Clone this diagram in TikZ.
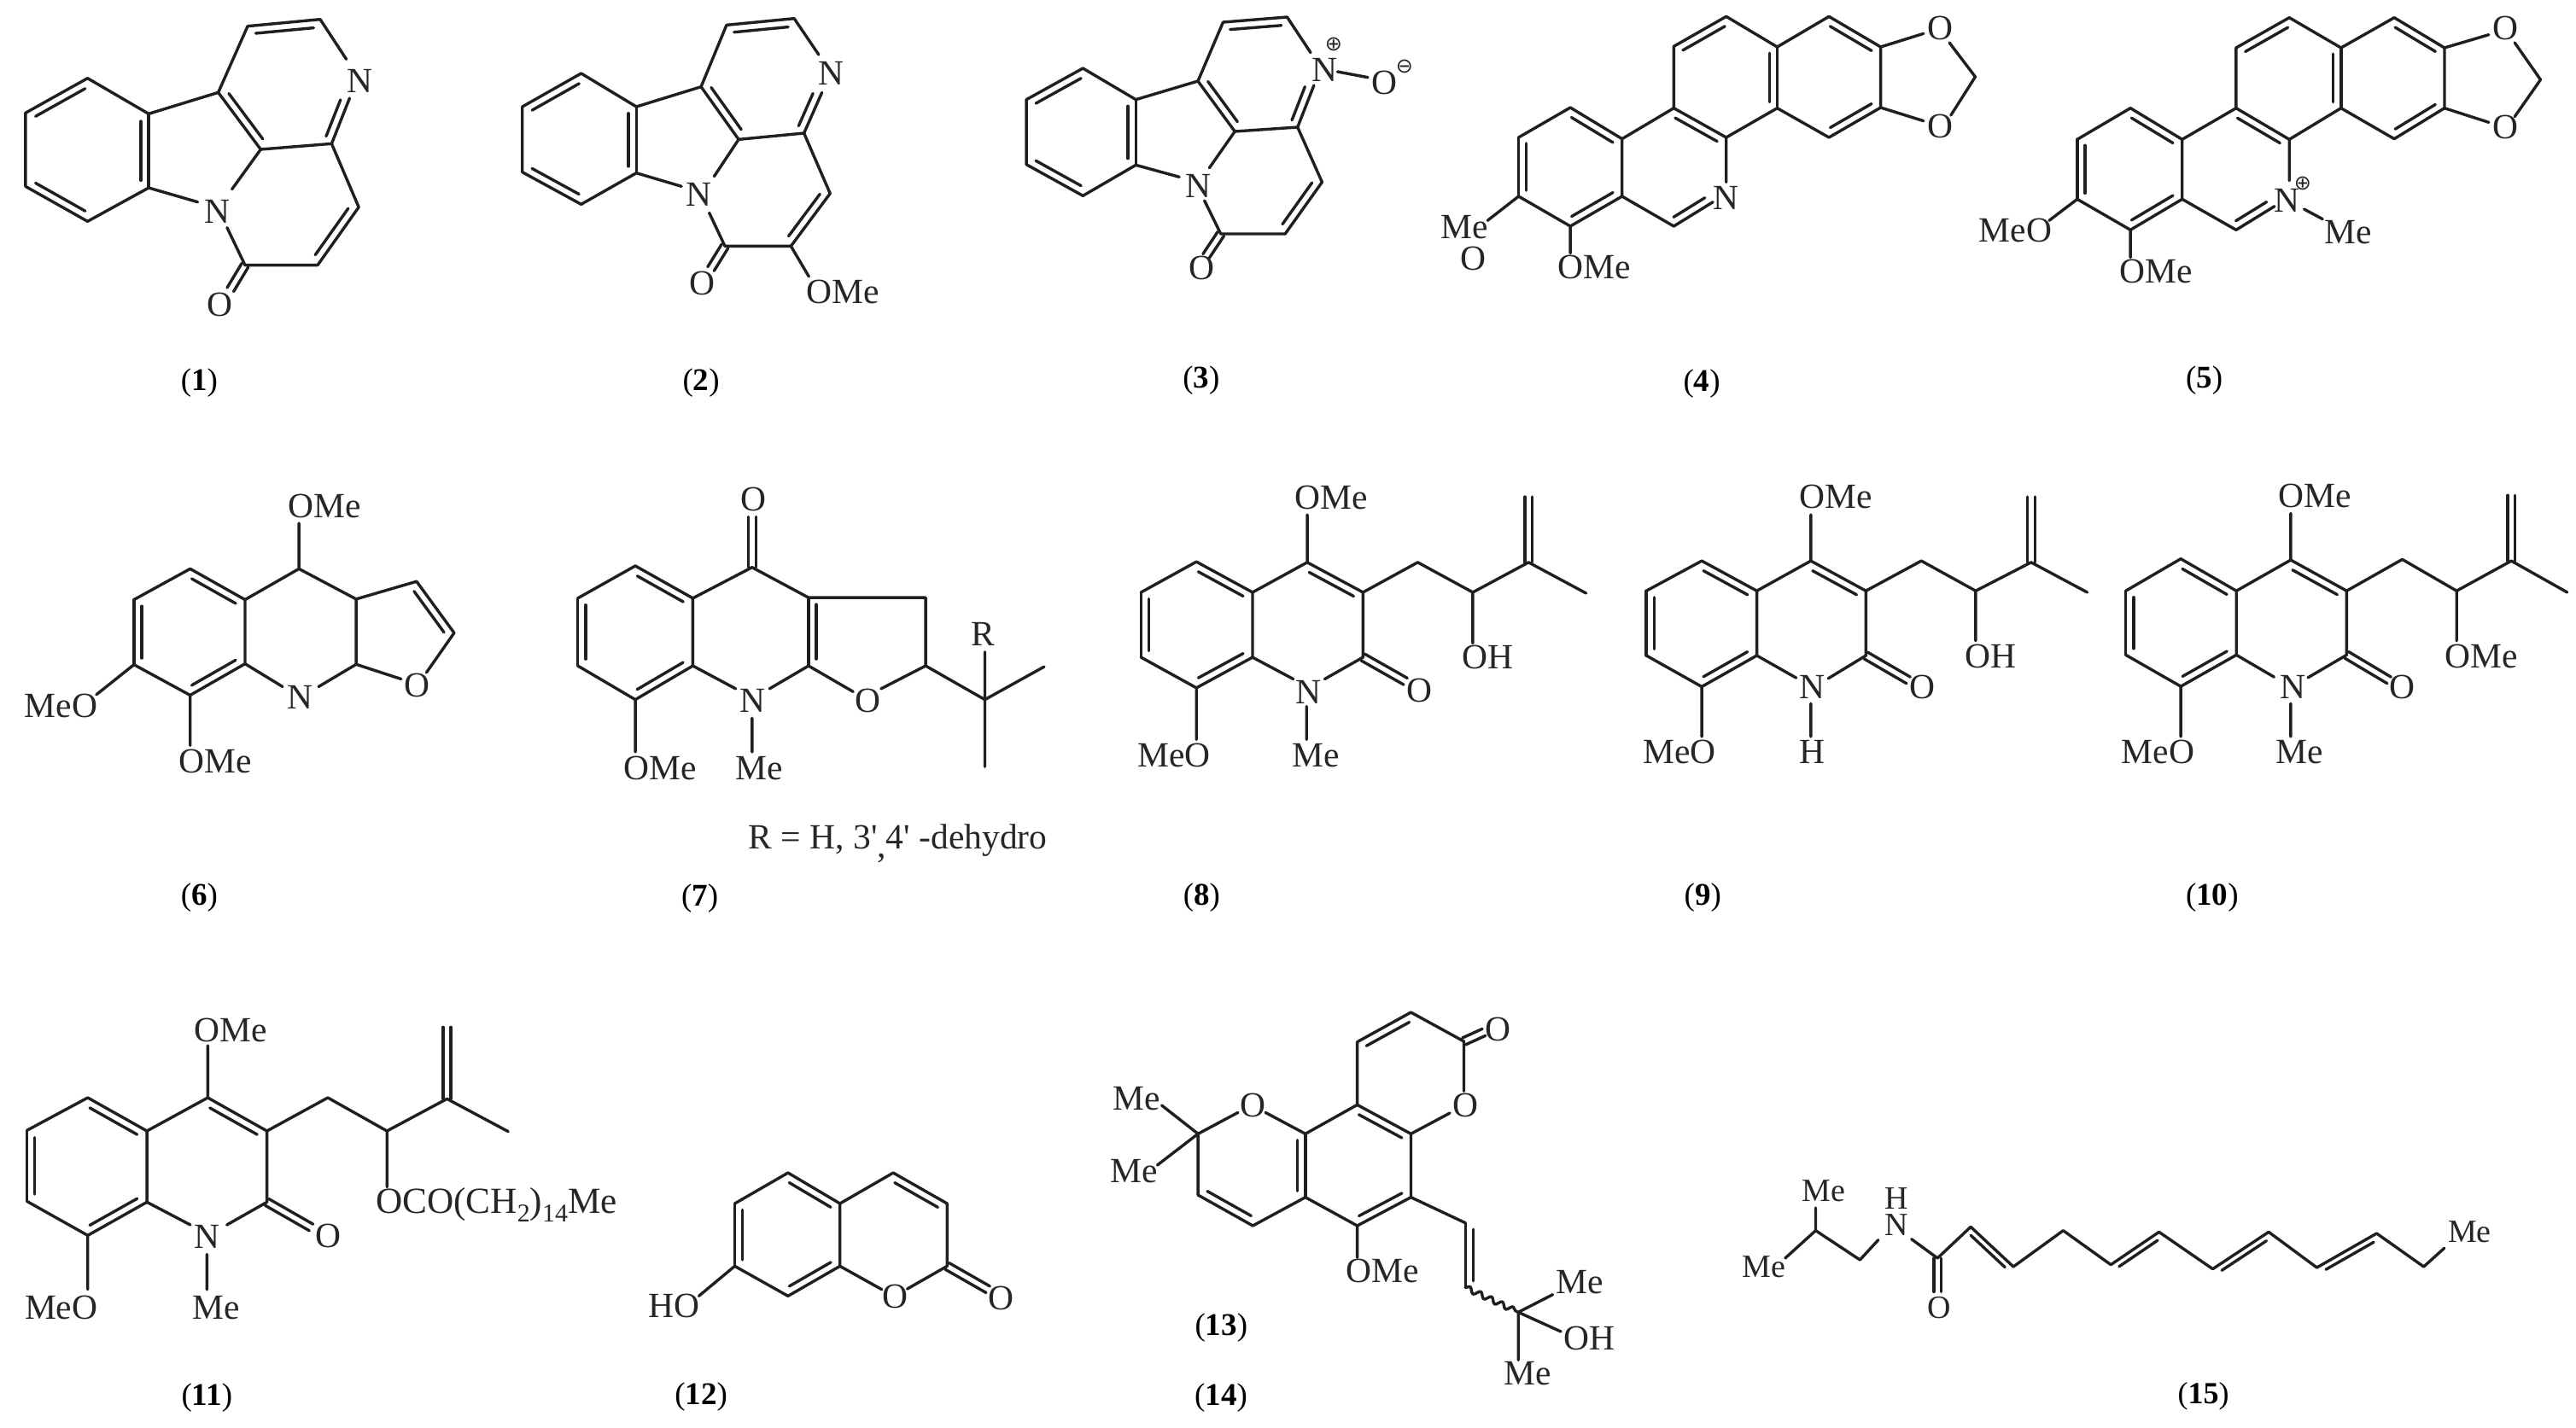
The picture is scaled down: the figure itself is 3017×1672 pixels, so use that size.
\documentclass[tikz,border=0pt]{standalone}
\usepackage{fontspec}
\setmainfont{Liberation Serif}
\newfontfamily\plainf{Liberation Serif}
\newfontfamily\symf{DejaVu Sans}
\usetikzlibrary{calc,decorations.pathmorphing}
\newcommand{\dbloff}{4.6pt}
\newcommand{\pts}[1]{\foreach \n/\x/\y in {#1} {\coordinate (\n) at (\x,\y);}}
\newcommand{\bondL}[2]{\draw[bond] (#1)--(#2); \draw[bond] ($(#1)!.1!(#2)!\dbloff!90:(#2)$) -- ($(#2)!.1!(#1)!\dbloff!-90:(#1)$);}
\newcommand{\bondR}[2]{\draw[bond] (#1)--(#2); \draw[bond] ($(#1)!.1!(#2)!\dbloff!-90:(#2)$) -- ($(#2)!.1!(#1)!\dbloff!90:(#1)$);}
\newcommand{\bondC}[2]{\draw[bond] ($(#1)!2.2pt!90:(#2)$) -- ($(#2)!2.2pt!-90:(#1)$); \draw[bond] ($(#1)!2.2pt!-90:(#2)$) -- ($(#2)!2.2pt!90:(#1)$);}
\newcommand{\lab}[4]{\node[lbl] (#1) at (#2,#3) {#4};}
\newcommand{\cpt}[4]{\node[capt] (#1) at (#2,#3) {(\textbf{#4})};}
% canthin-6-one skeleton
\newcommand{\canth}[1]{%
 \draw[bond] (#11)--(#12) (#13)--(#14) (#15)--(#16) (#11)--(#17)--(#110) (#111)--(#112) (#18)--(#19)--(#119) (#18)--(#114) (#16)--(#115) (#116)--(#117)--(#118);
 \bondL{#12}{#13}\bondL{#14}{#15}\bondL{#16}{#11}\bondR{#110}{#111}\bondL{#17}{#18}\bondL{#19}{#113}\bondR{#119}{#118}\bondC{#117}{#120}}
% quinolin-2-one with side chain
\newcommand{\quin}[1]{%
 \draw[bond] (#12)--(#13) (#14)--(#15) (#16)--(#11)--(#17) (#18)--(#19)--(#110) (#16)--(#111) (#112)--(#113) (#15)--(#114) (#17)--(#116) (#18)--(#117)--(#118)--(#119)--(#120) (#118)--(#122);
 \bondL{#11}{#12}\bondL{#13}{#14}\bondL{#15}{#16}\bondR{#17}{#18}\bondC{#19}{#115}\bondC{#119}{#121}}
% benzophenanthridine skeleton
\newcommand{\sang}[1]{%
 \draw[bond] (#12)--(#13) (#14)--(#15) (#16)--(#11)--(#17)--(#112) (#18)--(#19) (#16)--(#110) (#113)--(#114)--(#116) (#115)--(#18) (#117)--(#118) (#119)--(#115) (#117)--(#120) (#118)--(#121) (#123)--(#122)--(#124) (#14)--(#125) (#15)--(#126);
 \bondL{#11}{#12}\bondL{#13}{#14}\bondL{#15}{#16}\bondR{#17}{#18}\bondL{#110}{#111}\bondR{#112}{#113}\bondR{#114}{#115}\bondR{#116}{#117}\bondR{#118}{#119}}
\tikzset{
 bond/.style={line width=1.7pt,line cap=round,line join=round,draw=black!88},
 lbl/.style={anchor=base west,inner sep=0pt,outer sep=0pt,text=black!85,font=\fontsize{20.75}{24}\selectfont},
 lbls/.style={anchor=base west,inner sep=0pt,outer sep=0pt,text=black!85,font=\fontsize{19}{22}\selectfont},
 capt/.style={anchor=base,inner sep=0pt,outer sep=0pt,text=black,font=\fontsize{18.5}{22}\selectfont},
 chg/.style={anchor=center,inner sep=0pt,outer sep=0pt,text=black!85,font=\symf\fontsize{12}{14}\selectfont},
 zH/.style={x=0.43271pt,y=-0.16667pt},
 zA/.style={x=0.19133pt,y=-0.16667pt},
 zB/.style={x=0.19133pt,y=-0.17219pt},
 zC/.style={x=0.18399pt,y=-0.17219pt},
 zD/.style={x=0.20408pt,y=-0.17219pt},
 zE/.style={x=0.24237pt,y=-0.16667pt},
 zF/.style={x=0.21683pt,y=-0.16667pt},
 zG/.style={x=0.32430pt,y=-0.16667pt}
}
\begin{document}
\begin{tikzpicture}[x=0.5pt,y=-0.5pt]
\useasboundingbox (0,0) rectangle (3017,1672);
\fill[white] (0,0) rectangle (3017,1672);

% ---- 1
\begin{scope}[shift={(0,0)},zA]
\pts{a1/455/400,a2/268/275,a3/78/397,a4/78/655,a5/268/778,a6/455/660,a7/668/325,a8/798/525,a9/1015/505,a10/758/92,a11/980/68,a12/1060/208,a13/1070/345,a14/710/665,a15/605/710,a16/695/800,a17/750/932,a18/972/932,a19/1098/728,a20/705/1018}
\canth{a}
\lab{aN}{1062}{325}{N}\lab{aNb}{625}{783}{N}\lab{aO}{635}{1112}{O}
\cpt{acap}{610}{1371}{1}
\end{scope}

% ---- 2
\begin{scope}[shift={(580,0)},zA]
\pts{b1/432/375,b2/263/258,b3/83/375,b4/83/605,b5/263/718,b6/432/608,b7/630/305,b8/745/490,b9/945/468,b10/708/88,b11/915/65,b12/990/192,b13/1000/325,b14/670/620,b15/570/655,b16/655/748,b17/703/865,b18/905/865,b19/1025/680,b20/660/945,b21/960/972}
\canth{b}
\draw[bond] (b18)--(b21);
\lab{bN}{990}{298}{N}\lab{bNb}{585}{725}{N}\lab{bO}{595}{1035}{O}\lab{bOMe}{952}{1065}{OMe}
\cpt{bcap}{630}{1371}{2}
\end{scope}

% ---- 3
\begin{scope}[shift={(1160,0)},zA]
\pts{c1/445/350,c2/283/240,c3/110/350,c4/110/578,c5/283/688,c6/445/580,c7/635/285,c8/748/462,c9/940/447,c10/712/78,c11/908/60,c12/980/185,c13/990/300,c14/670/590,c15/578/622,c16/655/705,c17/705/822,c18/902/822,c19/1015/640,c20/660/900,c21/1062/252,c22/1155/272}
\canth{c}
\draw[bond] (c21)--(c22);
\lab{cN}{985}{285}{N}\lab{cO}{1168}{332}{O}\lab{cNb}{597}{693}{N}\lab{cOb}{607}{982}{O}
\node[chg] (cplus) at (1050,155) {⊕};
\node[chg] (cminus) at (1267,233) {⊖};
\cpt{ccap}{645}{1362}{3}
\end{scope}

% ---- 4 and 5
\begin{scope}[shift={(1660,0)},zH]
\pts{d1/277/488,d2/207/378,d3/137/483,d4/137/690,d5/207/795,d6/277/690,d7/347/380,d8/418/483,d9/418/640,d10/347/795,d11/400/710,d12/347/163,d13/418/58,d14/487/165,d15/487/380,d16/557/58,d17/627/165,d18/627/378,d19/557/483,d20/685/118,d21/685/425,d22/755/270,d23/720/150,d24/722/405,d25/95/775,d26/207/890}
\sang{d}
\lab{dMe}{32}{838}{Me}\lab{dO}{58}{948}{O}\lab{dOMe}{190}{980}{OMe}\lab{dN}{400}{735}{N}
\lab{dOa}{690}{140}{O}\lab{dOb}{690}{485}{O}
\cpt{dcap}{385}{1374}{4}
\pts{e1/1035/490,e2/965/380,e3/893/490,e4/893/700,e5/965/808,e6/1035/700,e7/1108/380,e8/1180/490,e9/1180/635,e10/1108/808,e11/1160/725,e12/1108/168,e13/1180/62,e14/1250/168,e15/1250/380,e16/1322/62,e17/1390/168,e18/1390/380,e19/1322/488,e20/1450/122,e21/1450/430,e22/1520/280,e23/1485/150,e24/1485/410,e25/855/775,e26/965/905,e27/1200/735,e28/1225/770}
\sang{e}
\draw[bond] (e27)--(e28);
\lab{eMeO}{760}{850}{MeO}\lab{eOMe}{950}{995}{OMe}\lab{eN}{1160}{745}{N}
\node[chg] (eplus) at (1198,645) {⊕};
\lab{eMe}{1228}{855}{Me}
\lab{eOa}{1455}{140}{O}\lab{eOb}{1455}{488}{O}
\cpt{ecap}{1065}{1362}{5}
\end{scope}

% ---- 6
\begin{scope}[shift={(0,540)},zB]
\pts{f1/750/472,f2/582/367,f3/410/472,f4/410/693,f5/582/797,f6/750/690,f7/915/367,f8/1090/470,f9/1090/692,f10/865/768,f11/975/768,f12/915/212,f13/1275/410,f14/1390/585,f15/1305/720,f16/1228/742,f17/295/795,f18/582/968}
\draw[bond] (f2)--(f3) (f4)--(f5) (f6)--(f1)--(f7)--(f8)--(f9) (f6)--(f10) (f9)--(f11) (f7)--(f12) (f8)--(f13) (f14)--(f15) (f9)--(f16) (f4)--(f17) (f5)--(f18);
\bondL{f1}{f2}\bondL{f3}{f4}\bondL{f5}{f6}\bondR{f13}{f14}
\lab{fN}{880}{843}{N}\lab{fO}{1238}{803}{O}\lab{fOMea}{882}{192}{OMe}\lab{fMeO}{75}{873}{MeO}\lab{fOMeb}{547}{1060}{OMe}
\cpt{fcap}{610}{1510}{6}
\end{scope}

% ---- 7
\begin{scope}[shift={(640,540)},zD]
\pts{g1/420/467,g2/255/357,g3/90/467,g4/90/697,g5/255/812,g6/420/697,g7/590/362,g8/590/190,g9/752/465,g10/752/697,g11/1088/465,g12/1088/697,g13/640/775,g14/880/785,g15/960/775,g16/543/775,g17/590/875,g18/590/990,g19/255/990,g20/1258/812,g21/1428/700,g22/1258/1040,g23/1258/650}
\draw[bond] (g2)--(g3) (g4)--(g5) (g6)--(g1)--(g7)--(g9)--(g11)--(g12)--(g20)--(g21) (g10)--(g13) (g10)--(g14) (g12)--(g15) (g6)--(g16) (g17)--(g18) (g5)--(g19) (g23)--(g22);
\bondL{g1}{g2}\bondL{g3}{g4}\bondL{g5}{g6}\bondL{g9}{g10}\bondC{g7}{g8}
\lab{gO}{557}{170}{O}\lab{gOb}{885}{855}{O}\lab{gN}{555}{855}{N}\lab{gMe}{542}{1085}{Me}\lab{gOMe}{222}{1085}{OMe}\lab{gR}{1220}{630}{R}
\lab{gtxt}{580}{1320}{\plainf R = H, 3'\raisebox{-5pt}{,}4' -dehydro}
\cpt{gcap}{440}{1515}{7}
\end{scope}

% ---- 8
\begin{scope}[shift={(1280,540)},zD]
\pts{h1/458/447,h2/297/343,h3/138/447,h4/138/668,h5/297/772,h6/458/668,h7/615/345,h8/775/447,h9/775/668,h10/665/742,h11/575/742,h12/613/835,h13/613/948,h14/297/948,h15/897/750,h16/615/183,h17/932/345,h18/1090/447,h19/1250/345,h20/1415/450,h21/1250/122,h22/1090/620}
\quin{h}
\lab{hN}{583}{825}{N}\lab{hMe}{572}{1040}{Me}\lab{hMeO}{128}{1040}{MeO}\lab{hO}{900}{820}{O}\lab{hOMe}{580}{165}{OMe}\lab{hOH}{1060}{708}{OH}
\cpt{hcap}{312}{1510}{8}
\end{scope}

% ---- 9
\begin{scope}[shift={(1880,540)},zD]
\pts{i1/435/442,i2/277/340,i3/118/442,i4/118/662,i5/277/768,i6/435/662,i7/590/340,i8/748/442,i9/748/662,i10/640/740,i11/548/738,i12/590/825,i13/590/938,i14/277/938,i15/870/746,i16/590/183,i17/907/340,i18/1063/442,i19/1222/345,i20/1383/447,i21/1222/122,i22/1063/612}
\quin{i}
\lab{iN}{558}{810}{N}\lab{iH}{558}{1030}{H}\lab{iMeO}{108}{1030}{MeO}\lab{iO}{873}{808}{O}\lab{iOMe}{557}{162}{OMe}\lab{iOH}{1032}{705}{OH}
\cpt{icap}{280}{1510}{9}
\end{scope}

% ---- 10
\begin{scope}[shift={(2440,540)},zC]
\pts{j1/487/442,j2/310/333,j3/135/442,j4/135/660,j5/310/767,j6/487/660,j7/660/337,j8/838/442,j9/838/660,j10/715/737,j11/607/735,j12/660/825,j13/660/938,j14/310/938,j15/973/746,j16/660/178,j17/1015/335,j18/1188/442,j19/1362/340,j20/1540/447,j21/1362/117,j22/1188/612}
\quin{j}
\lab{jN}{625}{810}{N}\lab{jMe}{612}{1030}{Me}\lab{jMeO}{122}{1030}{MeO}\lab{jO}{975}{808}{O}\lab{jOMe}{622}{158}{OMe}\lab{jOMeb}{1150}{703}{OMe}
\cpt{jcap}{410}{1510}{10}
\end{scope}

% ---- 11
\begin{scope}[shift={(0,1160)},zE]
\pts{k1/355/495,k2/212/378,k3/65/493,k4/65/742,k5/212/862,k6/355/745,k7/502/378,k8/645/495,k9/645/745,k10/548/825,k11/460/825,k12/500/928,k13/500/1052,k14/212/1052,k15/752/834,k16/502/195,k17/792/378,k18/935/495,k19/1080/382,k20/1228/497,k21/1080/130,k22/935/692}
\quin{k}
\lab{kN}{470}{908}{N}\lab{kMe}{465}{1155}{Me}\lab{kMeO}{60}{1155}{MeO}\lab{kO}{762}{905}{O}\lab{kOMe}{470}{182}{OMe}
\lab{kest}{908}{785}{\fontsize{21.6}{24}\selectfont OCO(CH\raisebox{-5pt}{\fontsize{15}{16}\selectfont 2})\raisebox{-5pt}{\fontsize{15}{16}\selectfont 14}Me}
\cpt{kcap}{500}{1458}{11}
\end{scope}

% ---- 12
\begin{scope}[shift={(740,1160)},zA]
\pts{l1/637/750,l2/478/642,l3/315/750,l4/315/970,l5/478/1075,l6/637/970,l7/800/642,l8/965/750,l9/965/970,l10/765/1052,l11/843/1050,l12/1090/1052,l13/205/1075}
\draw[bond] (l2)--(l3) (l4)--(l5) (l6)--(l1)--(l7) (l8)--(l9)--(l11) (l6)--(l10) (l4)--(l13);
\bondL{l1}{l2}\bondL{l3}{l4}\bondL{l5}{l6}\bondR{l7}{l8}\bondC{l9}{l12}
\lab{lO}{768}{1118}{O}\lab{lOb}{1092}{1122}{O}\lab{lHO}{52}{1150}{HO}
\cpt{lcap}{212}{1455}{12}
\end{scope}

% ---- 13 / 14
\begin{scope}[shift={(1260,1160)},zF]
\pts{m1/760/403,m2/905/505,m3/905/728,m4/760/828,m5/620/728,m6/620/505,m7/760/182,m8/905/78,m9/1048/180,m10/1048/355,m11/1010/432,m12/1102/148,m13/512/430,m14/438/430,m15/330/505,m16/330/720,m17/478/828,m18/232/405,m19/220/615,m20/760/940,m21/1052/818,m22/1052/1045,m23/1195/1132,m24/1288/1070,m25/1310/1200,m26/1195/1300}
\draw[bond] (m2)--(m3) (m4)--(m5) (m6)--(m1)--(m7) (m8)--(m9)--(m10) (m2)--(m11) (m6)--(m13) (m14)--(m15)--(m16) (m17)--(m5) (m15)--(m18) (m15)--(m19) (m4)--(m20) (m3)--(m21) (m23)--(m24) (m23)--(m25) (m23)--(m26);
\bondR{m1}{m2}\bondR{m3}{m4}\bondL{m5}{m6}\bondR{m7}{m8}\bondL{m16}{m17}\bondC{m9}{m12}\bondL{m21}{m22}
\draw[bond,decorate,decoration={snake,amplitude=1.6pt,segment length=7pt}] (m22)--(m23);
\lab{mO}{1018}{445}{O}\lab{mOb}{1105}{177}{O}\lab{mOc}{445}{445}{O}\lab{mMea}{100}{420}{Me}\lab{mMeb}{93}{677}{Me}\lab{mOMe}{730}{1027}{OMe}\lab{mMec}{1298}{1065}{Me}\lab{mOH}{1318}{1265}{OH}\lab{mMed}{1157}{1388}{Me}
\cpt{mcap}{393}{1212}{13}
\cpt{mcapb}{392}{1458}{14}
\end{scope}

% ---- 15
\begin{scope}[shift={(2000,1300)},zG]
\renewcommand{\dbloff}{3.6pt}
\pts{o1/195/425,o2/195/345,o3/140/522,o4/275/528,o5/308/458,o6/368/455,o7/415/522,o8/415/640,o9/475/412,o10/552/552,o11/642/425,o12/728/545,o13/815/430,o14/912/560,o15/1013/430,o16/1100/555,o17/1208/435,o18/1293/552,o19/1330/487}
\draw[bond] (o2)--(o1)--(o3) (o1)--(o4)--(o5) (o6)--(o7)--(o9) (o10)--(o11)--(o12) (o13)--(o14) (o15)--(o16) (o17)--(o18)--(o19);
\bondC{o7}{o8}\bondR{o9}{o10}\bondR{o12}{o13}\bondR{o14}{o15}\bondR{o16}{o17}
\node[lbls] (oMea) at (170,322) {Me};
\node[lbls] (oMeb) at (62,590) {Me};
\node[lbls] (oN) at (320,442) {N};
\node[lbls] (oH) at (320,348) {H};
\node[lbls] (oO) at (397,732) {O};
\node[lbls] (oMec) at (1337,465) {Me};
\node[capt,font=\fontsize{18}{21}\selectfont] (ocap) at (895,1032) {(\textbf{15})};
\end{scope}
\end{tikzpicture}
\end{document}
